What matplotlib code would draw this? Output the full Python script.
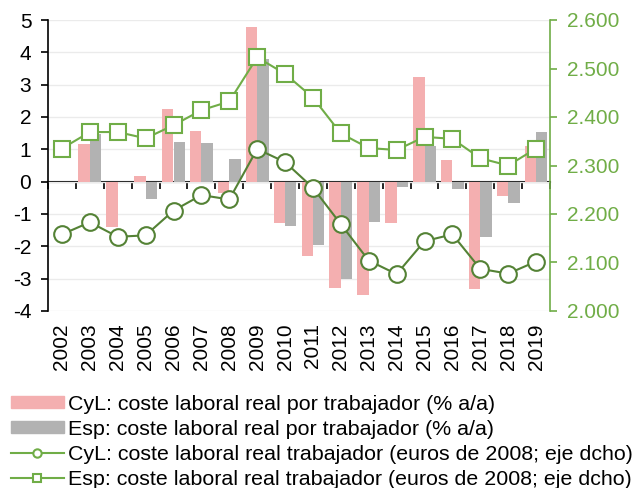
import numpy as np
import matplotlib
matplotlib.use("Agg")
import matplotlib.pyplot as plt
from matplotlib.patches import Patch
from matplotlib.lines import Line2D

plt.rcParams['font.family'] = ['Liberation Sans', 'DejaVu Sans']
plt.rcParams['axes.unicode_minus'] = False

# data
years = [str(y) for y in range(2002, 2020)]
cyl_pct = [np.nan, 1.16, -1.39, 0.18, 2.25, 1.56, -0.35, 4.77, -1.27, -2.30,
           -3.30, -3.51, -1.27, 3.24, 0.66, -3.32, -0.44, 1.11]
esp_pct = [np.nan, 1.47, 0.0, -0.55, 1.22, 1.21, 0.69, 3.80, -1.38, -1.96,
           -3.02, -1.24, -0.17, 1.10, -0.22, -1.70, -0.67, 1.53]
cyl_eur = [2.158, 2.183, 2.153, 2.156, 2.207, 2.239, 2.230, 2.334, 2.307, 2.254,
           2.179, 2.104, 2.076, 2.144, 2.158, 2.087, 2.077, 2.102]
esp_eur = [2.335, 2.369, 2.369, 2.356, 2.383, 2.414, 2.432, 2.523, 2.489, 2.440,
           2.366, 2.336, 2.332, 2.359, 2.355, 2.315, 2.300, 2.335]
right_ticks = [2.0, 2.1, 2.2, 2.3, 2.4, 2.5, 2.6]
right_labels = ['2.000', '2.100', '2.200', '2.300', '2.400', '2.500', '2.600']

pink = '#F4AFB0'
grey = '#B2B2B2'
dark_green = '#548235'
light_green = '#70AD47'

fig = plt.figure(figsize=(6.34, 4.88), dpi=100)
ax = fig.add_axes([48/634, 1-311/488, 502/634, 291/488])

x = np.arange(len(years))
w = 0.41
ax.bar(x - w/2, cyl_pct, w, color=pink, zorder=2)
ax.bar(x + w/2, esp_pct, w, color=grey, zorder=2)

ax.set_xlim(-0.5, len(years) - 0.5)
ax.set_ylim(-4, 5)
ax.set_yticks(range(-4, 6))
ax.yaxis.grid(True, color='#EBEBEB', linewidth=1, zorder=0)
ax.set_axisbelow(True)
ax.tick_params(axis='y', labelsize=15, length=5, width=1.2, direction='out', pad=7)
ax.set_xticks(x)
ax.set_xticklabels(years, rotation=90, fontsize=15)
ax.tick_params(axis='x', length=0, pad=9)
for s in ['top', 'right', 'bottom']:
    ax.spines[s].set_visible(False)
ax.spines['left'].set_linewidth(1.2)

# zero line with category boundary ticks
sec = ax.secondary_xaxis(4/9)
sec.set_xticks(np.arange(-0.5, len(years), 1.0))
sec.set_xticklabels([])
sec.tick_params(axis='x', direction='out', length=5, width=1.2)
sec.spines['bottom'].set_linewidth(1.5)

ax2 = ax.twinx()
ax2.plot(x, cyl_eur, color=dark_green, lw=1.5, marker='o', ms=12,
         mfc='white', mec=dark_green, mew=1.5, zorder=3)
ax2.plot(x, esp_eur, color=light_green, lw=1.5, marker='s', ms=11,
         mfc='white', mec=light_green, mew=1.5, zorder=3)
ax2.set_ylim(2.0, 2.6)
ax2.set_yticks(right_ticks)
ax2.set_yticklabels(right_labels)
ax2.tick_params(axis='y', labelsize=15, colors=light_green, length=5, width=1.2, pad=7)
for s in ['top', 'left', 'bottom']:
    ax2.spines[s].set_visible(False)
ax2.spines['right'].set_color(light_green)
ax2.spines['right'].set_linewidth(1.2)

handles = [
    Patch(color=pink),
    Patch(color=grey),
    Line2D([], [], color=light_green, marker='o', ms=6, mfc='white',
           mec=light_green, mew=1.5, lw=1.5),
    Line2D([], [], color=light_green, marker='s', ms=6, mfc='white',
           mec=light_green, mew=1.5, lw=1.5),
]
labels = [
    'CyL: coste laboral real por trabajador (% a/a)',
    'Esp: coste laboral real por trabajador (% a/a)',
    'CyL: coste laboral real trabajador (euros de 2008; eje dcho)',
    'Esp: coste laboral real trabajador (euros de 2008; eje dcho)',
]
fig.legend(handles, labels, loc='lower left', bbox_to_anchor=(0.006, -0.017),
           frameon=False, fontsize=15.4, handlelength=2.45, handleheight=0.45,
           handletextpad=0.22, labelspacing=0.28, borderaxespad=0.15,
           borderpad=0.2)

fig.savefig('out.png', dpi=100)
